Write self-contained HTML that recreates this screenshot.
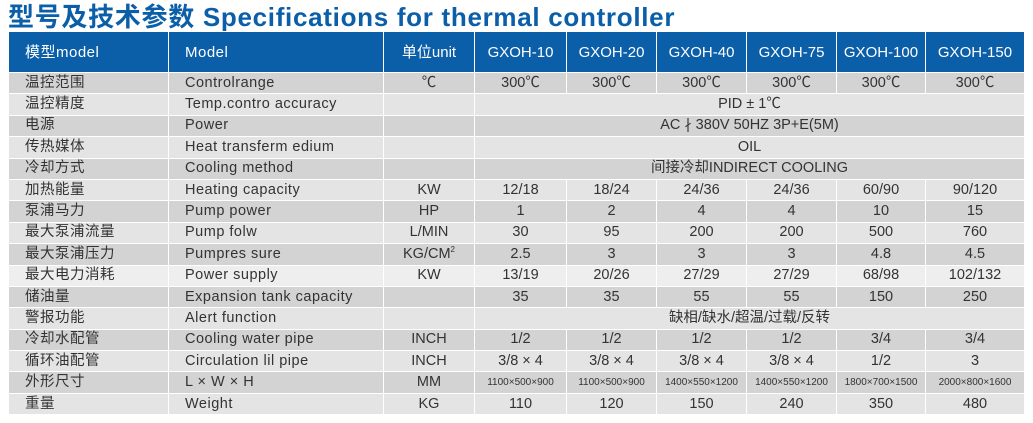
<!DOCTYPE html>
<html><head><meta charset="utf-8"><style>
body{margin:0;width:1033px;height:423px;background:#fff;overflow:hidden;font-family:"Liberation Sans","Noto Sans CJK SC",sans-serif;position:relative}
h1{position:absolute;left:8px;top:-3px;margin:0;font-size:26px;font-weight:bold;color:#0b5fa8;white-space:nowrap;letter-spacing:0.7px}
table{position:absolute;left:8px;top:31px;border-collapse:collapse;table-layout:fixed;width:1016px}
td{border:1px solid #fff;height:20.4px;padding:0;font-size:14.5px;color:#333;text-align:center;white-space:nowrap;overflow:hidden;line-height:19px}
td.l{text-align:left;padding-left:16px;letter-spacing:0.5px}
tr.h td{background:#0b5ea8;color:#fff;height:40px;font-size:15px}
tr.a td{background:#d3d3d3}
tr.b td{background:#e4e4e4}
tr.c td{background:#eee}
td.s{font-size:10px}
sup{font-size:8px;line-height:0;vertical-align:6px}
</style></head><body>
<h1>型号及技术参数 Specifications for thermal controller</h1>
<table>
<colgroup><col style="width:160px"><col style="width:215px"><col style="width:91px"><col style="width:92px"><col style="width:90px"><col style="width:90px"><col style="width:90px"><col style="width:89px"><col style="width:99px"></colgroup>
<tr class="h"><td class="l">模型model</td><td class="l">Model</td><td>单位unit</td><td>GXOH-10</td><td>GXOH-20</td><td>GXOH-40</td><td>GXOH-75</td><td>GXOH-100</td><td>GXOH-150</td></tr>
<tr class="a"><td class="l">温控范围</td><td class="l">Controlrange</td><td>℃</td><td>300℃</td><td>300℃</td><td>300℃</td><td>300℃</td><td>300℃</td><td>300℃</td></tr>
<tr class="b"><td class="l">温控精度</td><td class="l">Temp.contro accuracy</td><td></td><td colspan="6">PID ± 1℃</td></tr>
<tr class="a"><td class="l">电源</td><td class="l">Power</td><td></td><td colspan="6">AC ∤ 380V 50HZ 3P+E(5M)</td></tr>
<tr class="b"><td class="l">传热媒体</td><td class="l">Heat transferm edium</td><td></td><td colspan="6">OIL</td></tr>
<tr class="a"><td class="l">冷却方式</td><td class="l">Cooling method</td><td></td><td colspan="6">间接冷却INDIRECT COOLING</td></tr>
<tr class="b"><td class="l">加热能量</td><td class="l">Heating capacity</td><td>KW</td><td>12/18</td><td>18/24</td><td>24/36</td><td>24/36</td><td>60/90</td><td>90/120</td></tr>
<tr class="a"><td class="l">泵浦马力</td><td class="l">Pump power</td><td>HP</td><td>1</td><td>2</td><td>4</td><td>4</td><td>10</td><td>15</td></tr>
<tr class="b"><td class="l">最大泵浦流量</td><td class="l">Pump folw</td><td>L/MIN</td><td>30</td><td>95</td><td>200</td><td>200</td><td>500</td><td>760</td></tr>
<tr class="a"><td class="l">最大泵浦压力</td><td class="l">Pumpres sure</td><td>KG/CM<sup>2</sup></td><td>2.5</td><td>3</td><td>3</td><td>3</td><td>4.8</td><td>4.5</td></tr>
<tr class="c"><td class="l">最大电力消耗</td><td class="l">Power supply</td><td>KW</td><td>13/19</td><td>20/26</td><td>27/29</td><td>27/29</td><td>68/98</td><td>102/132</td></tr>
<tr class="a"><td class="l">储油量</td><td class="l">Expansion tank capacity</td><td></td><td>35</td><td>35</td><td>55</td><td>55</td><td>150</td><td>250</td></tr>
<tr class="b"><td class="l">警报功能</td><td class="l">Alert function</td><td></td><td colspan="6">缺相/缺水/超温/过载/反转</td></tr>
<tr class="a"><td class="l">冷却水配管</td><td class="l">Cooling water pipe</td><td>INCH</td><td>1/2</td><td>1/2</td><td>1/2</td><td>1/2</td><td>3/4</td><td>3/4</td></tr>
<tr class="b"><td class="l">循环油配管</td><td class="l">Circulation lil pipe</td><td>INCH</td><td>3/8 × 4</td><td>3/8 × 4</td><td>3/8 × 4</td><td>3/8 × 4</td><td>1/2</td><td>3</td></tr>
<tr class="a"><td class="l">外形尺寸</td><td class="l">L × W × H</td><td>MM</td><td class="s">1100×500×900</td><td class="s">1100×500×900</td><td class="s">1400×550×1200</td><td class="s">1400×550×1200</td><td class="s">1800×700×1500</td><td class="s">2000×800×1600</td></tr>
<tr class="b"><td class="l">重量</td><td class="l">Weight</td><td>KG</td><td>110</td><td>120</td><td>150</td><td>240</td><td>350</td><td>480</td></tr>
</table>
</body></html>
